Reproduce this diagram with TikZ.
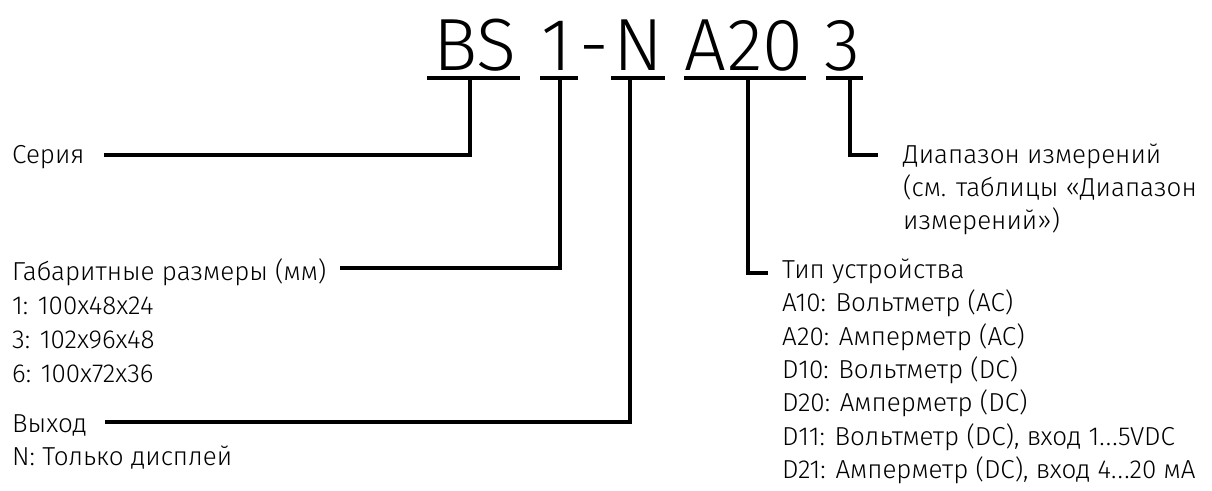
\documentclass[tikz,border=0pt]{standalone}
\usepackage{fontspec}
\setmainfont{Fira Sans Light}
\newcommand{\dotsx}{.\kern1.2pt.\kern1.2pt.}
\begin{document}
\begin{tikzpicture}[x=1pt,y=-1pt,
  big/.style={inner sep=0pt,anchor=base,font=\fontsize{74}{80}\selectfont},
  lbl/.style={inner sep=0pt,anchor=base west,font=\fontsize{26}{33}\selectfont},
  conn/.style={line width=3.6pt,line join=miter},
  uline/.style={line width=3.6pt}]
\useasboundingbox (0,0) rectangle (1212,490);
% code parts
\node[big] (bs) at (475,70) {BS};
\node[big] (one) at (557,70) {1};
\node[big] (dash) at (594,70) {-};
\node[big] (nn) at (638,70) {N};
\node[big] (a20) at (744,70) {A20};
\node[big] (three) at (842,70) {3};
% underlines
\coordinate (bsL) at (427,78); \coordinate (bsR) at (520,78);
\coordinate (oneL) at (540,78); \coordinate (oneR) at (578,78);
\coordinate (nL) at (611,78); \coordinate (nR) at (665,78);
\coordinate (aL) at (684,78); \coordinate (aR) at (806,78);
\coordinate (tL) at (826,78); \coordinate (tR) at (863,78);
\draw[uline] (bsL) -- (bsR);
\draw[uline] (oneL) -- (oneR);
\draw[uline] (nL) -- (nR);
\draw[uline] (aL) -- (aR);
\draw[uline] (tL) -- (tR);
% stems start
\coordinate (sBS) at (470,78);
\coordinate (sOne) at (560,78);
\coordinate (sN) at (630,78);
\coordinate (sA) at (748,78);
\coordinate (sT) at (850,78);
% left labels
\node[lbl] (ser) at (12,163) {Серия};
\node[lbl] (gab) at (12,280) {Габаритные размеры (мм)};
\node[lbl] (g1) at (12,314) {1: 100x48x24};
\node[lbl] (g3) at (12,348) {3: 102x96x48};
\node[lbl] (g6) at (12,382) {6: 100x72x36};
\node[lbl] (vyh) at (12,432) {Выход};
\node[lbl] (vyhN) at (12,465) {N: Только дисплей};
% right labels
\node[lbl] (diap) at (903,163) {Диапазон измерений};
\node[lbl] (diap2) at (903,196) {(см. таблицы «Диапазон};
\node[lbl] (diap3) at (903,229) {измерений»)};
\node[lbl] (tip) at (782,278) {Тип устройства};
\node[lbl] (t1) at (782,311) {A10: Вольтметр (AC)};
\node[lbl] (t2) at (782,345) {A20: Амперметр (AC)};
\node[lbl] (t3) at (782,378) {D10: Вольтметр (DC)};
\node[lbl] (t4) at (782,411) {D20: Амперметр (DC)};
\node[lbl] (t5) at (782,445) {D11: Вольтметр (DC), вход 1\dotsx5VDC};
\node[lbl] (t6) at (782,478) {D21: Амперметр (DC), вход 4\dotsx20 мА};
% connector ends
\coordinate (eSer) at (104,155);
\coordinate (eGab) at (340,268);
\coordinate (eVyh) at (105,422);
\coordinate (eTip) at (768,273);
\coordinate (eDiap) at (878,155);
\draw[conn] (sBS) |- (eSer);
\draw[conn] (sOne) |- (eGab);
\draw[conn] (sN) |- (eVyh);
\draw[conn] (sA) |- (eTip);
\draw[conn] (sT) |- (eDiap);
\end{tikzpicture}
\end{document}
